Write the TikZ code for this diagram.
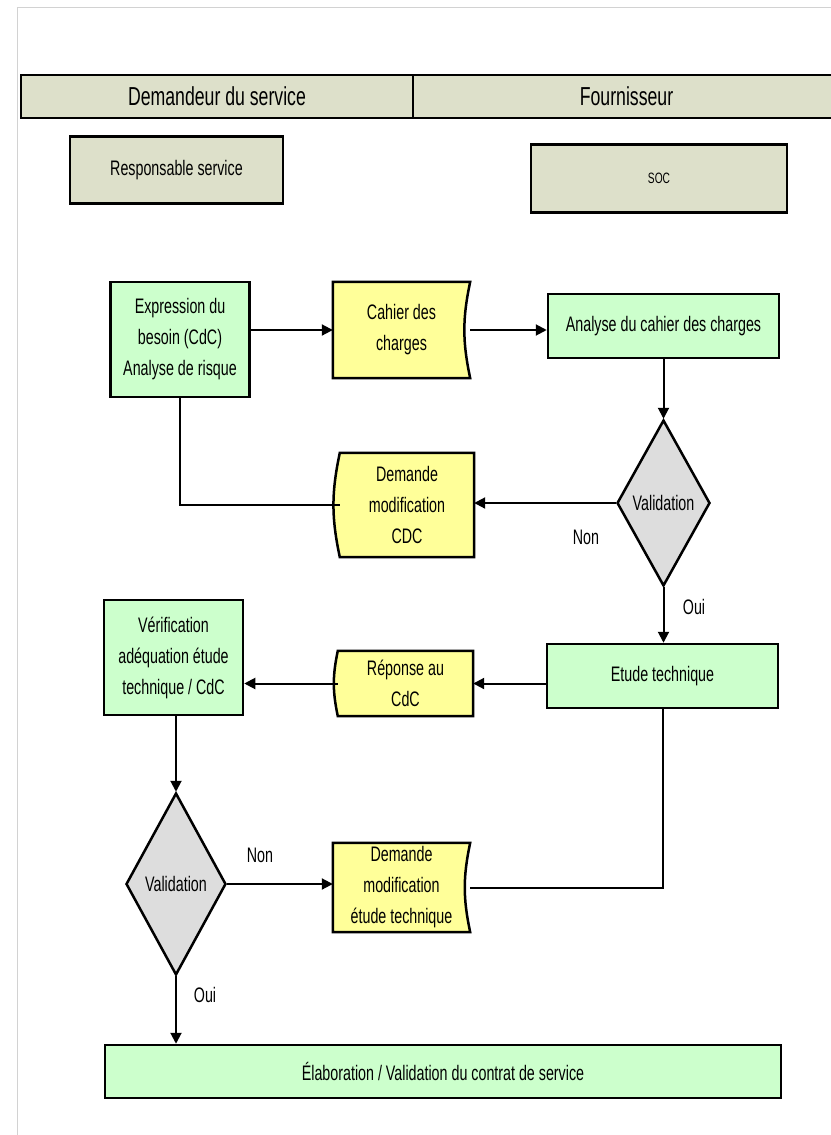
\documentclass[tikz,border=0pt]{standalone}
\usepackage{fontspec}
\setmainfont{Liberation Sans}[FakeStretch=0.68]
\usetikzlibrary{shapes.geometric,arrows.meta,backgrounds}
\definecolor{lanegray}{RGB}{221,224,202}
\definecolor{taskgreen}{RGB}{204,255,204}
\definecolor{docyellow}{RGB}{255,255,153}
\definecolor{decgray}{RGB}{221,221,221}

\begin{document}
\begin{tikzpicture}[x=1pt,y=-1pt,
every node/.style={align=center, inner sep=0pt},
txt/.style={font=\fontsize{21}{31}\selectfont},
lane/.style={draw, line width=2.5pt, fill=lanegray, font=\fontsize{26}{28}\selectfont},
role/.style={draw, line width=2.5pt, fill=lanegray, txt},
task/.style={draw, line width=2.5pt, fill=taskgreen, txt},
doc/.style={txt},
docline/.style={draw, line width=2.5pt, fill=docyellow},
decision/.style={diamond, draw, line width=2.5pt, fill=decgray, txt},
flow/.style={line width=2pt, -{Triangle[length=11pt,width=11pt]}},
link/.style={line width=2pt},
answer/.style={txt}]
\useasboundingbox (0,0) rectangle (830,1135);
\draw[gray!35, line width=1pt] (835,7) -- (17,7) -- (17,1140);

% lanes and roles
\node[lane, minimum width=392pt, minimum height=43pt] (demandeur) at (217,96.5) {Demandeur du service};
\node[lane, minimum width=427pt, minimum height=43pt] (fournisseur) at (626.5,96.5) {Fournisseur};
\node[role, minimum width=213pt, minimum height=67pt] (resp) at (176.5,170) {Responsable service};
\node[role, minimum width=256pt, minimum height=68pt, font=\fontsize{15}{16}\selectfont] (soc) at (659,178.5) {SOC};

% steps
\node[task, minimum width=139pt, minimum height=115pt] (expr) at (180,339.5) {Expression du\\besoin (CdC)\\Analyse de risque};
\node[doc, minimum width=137pt, minimum height=96pt] (cahier) at (401.5,330) {Cahier des\\charges};
\node[task, minimum width=231pt, minimum height=64pt] (analyse) at (663.5,326) {Analyse du cahier des charges};
\node[decision, minimum width=93pt, minimum height=166pt] (val1) at (663.5,503) {Validation};
\node[doc, minimum width=134pt, minimum height=104pt] (dcdc) at (407,505) {Demande\\modification\\CDC};
\node[task, minimum width=231pt, minimum height=64pt] (etude) at (662.5,676) {Etude technique};
\node[doc, minimum width=135pt, minimum height=65pt] (reponse) at (405.5,683.5) {Réponse au\\CdC};
\node[task, minimum width=139pt, minimum height=115pt] (verif) at (173.5,657.5) {Vérification\\adéquation étude\\technique / CdC};
\node[decision, minimum width=100pt, minimum height=182pt] (val2) at (176,884) {Validation};
\node[doc, minimum width=137pt, minimum height=89pt] (dmet) at (401.5,887.5) {Demande\\modification\\étude technique};
\node[task, minimum width=676pt, minimum height=53pt] (contrat) at (443,1071.5) {Élaboration / Validation du contrat de service};

\node[answer] (non1) at (586,537) {Non};
\node[answer] (oui1) at (694,607) {Oui};
\node[answer] (non2) at (260,855) {Non};
\node[answer] (oui2) at (205,995) {Oui};

\begin{scope}[on background layer]
\path[docline] (cahier.north west) -- (cahier.north east) to[bend right=12] (cahier.south east) -- (cahier.south west) -- cycle;
\path[docline] (dmet.north west) -- (dmet.north east) to[bend right=12] (dmet.south east) -- (dmet.south west) -- cycle;
\path[docline] (dcdc.north east) -- (dcdc.north west) to[bend right=12] (dcdc.south west) -- (dcdc.south east) -- cycle;
\path[docline] (reponse.north east) -- (reponse.north west) to[bend right=12] (reponse.south west) -- (reponse.south east) -- cycle;
\end{scope}

% connectors
\draw[flow] (expr.east |- cahier.west) -- (cahier.west);
\draw[flow] (cahier.east) -- (cahier.east -| analyse.west);
\draw[flow] (analyse.south) -- (val1.north);
\draw[flow] (val1.west) -- (val1.west -| dcdc.east);
\draw[link] (expr.south) |- (dcdc.west);
\draw[flow] (val1.south) -- (val1.south |- etude.north);
\draw[flow] (etude.west |- reponse.east) -- (reponse.east);
\draw[flow] (reponse.west) -- (reponse.west -| verif.east);
\draw[flow] (verif.south -| val2.north) -- (val2.north);
\draw[flow] (val2.east) -- (val2.east -| dmet.west);
\draw[link] (etude.south) |- (dmet.east);
\draw[flow] (val2.south) -- (val2.south |- contrat.north);
\end{tikzpicture}
\end{document}
